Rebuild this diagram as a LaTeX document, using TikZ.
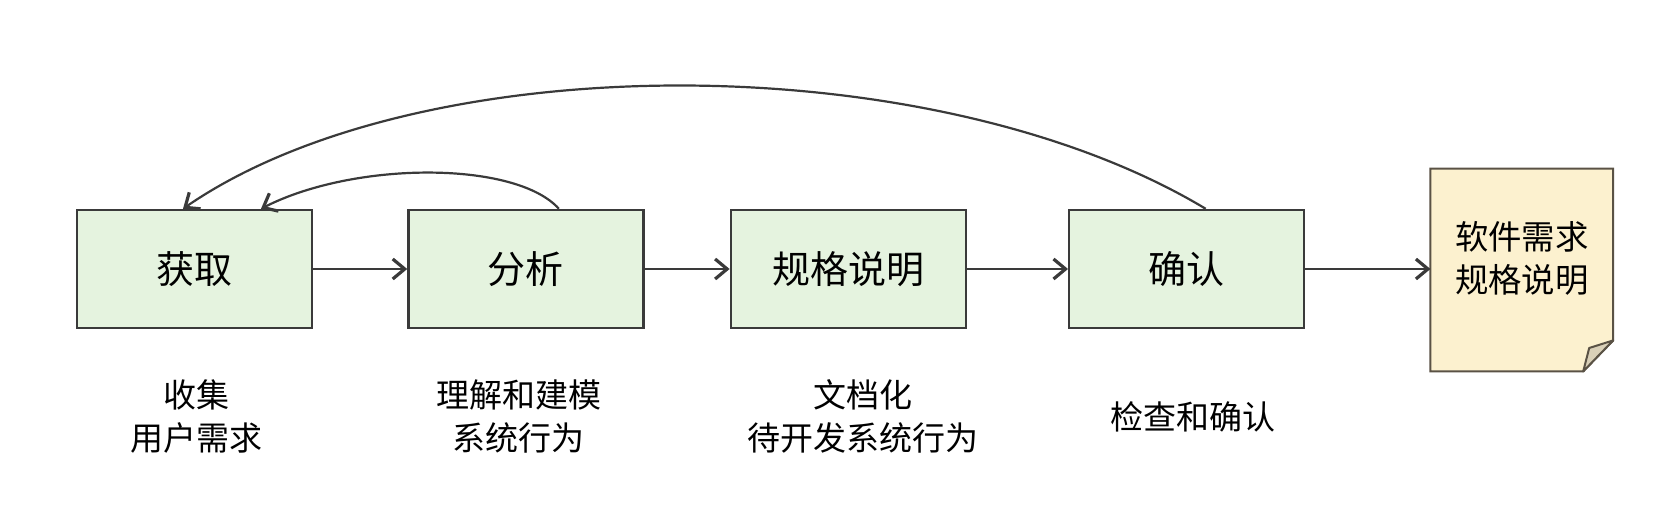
\documentclass[tikz,border=0pt]{standalone}
\usepackage{fontspec}
\newfontfamily\cjk{Noto Sans CJK SC}
\usepackage{tikz}
\usetikzlibrary{positioning,arrows.meta,calc}
\definecolor{boxgreen}{HTML}{E5F3DF}
\definecolor{edgegray}{HTML}{3A3A3A}
\definecolor{docyellow}{HTML}{FCF1CF}
\definecolor{docedge}{HTML}{5A5245}
\definecolor{foldtan}{HTML}{D9D0B8}
\tikzset{
  stage/.style={draw=edgegray, line width=1.2pt, fill=boxgreen, minimum width=117.5pt,
                minimum height=59pt, inner sep=0pt, font=\cjk\fontsize{19}{22}\selectfont},
  note/.style={align=center, inner sep=0pt, font=\cjk\fontsize{16.5}{21.5}\selectfont},
  docbox/.style={minimum width=91pt, minimum height=101pt, inner sep=0pt},
  doctext/.style={align=center, inner sep=0pt, font=\cjk\fontsize{16.7}{21.5}\selectfont},
  flow/.style={-{Straight Barb[length=6pt,width=10pt,line width=0.5pt 1]}, line width=1.1pt, draw=edgegray},
}
\begin{document}
\begin{tikzpicture}[x=0.5pt,y=0.5pt]
\useasboundingbox (0,0) rectangle (1670,520);
\node[stage] (acq) at (194.5,251) {获取};
\node[stage, right=47pt of acq] (ana) {分析};
\node[stage, right=42.5pt of ana] (spc) {规格说明};
\node[stage, right=50.5pt of spc] (val) {确认};
\node[docbox, right=62.5pt of val, yshift=-0.5pt] (doc) {};
\draw[draw=docedge, line width=1pt, fill=docyellow] (doc.north west) -- (doc.north east)
  -- ([yshift=15.5pt]doc.south east) -- ([xshift=-15pt]doc.south east) -- (doc.south west) -- cycle;
\draw[draw=docedge, line width=1pt, line join=round, fill=foldtan] ([yshift=15.5pt]doc.south east)
  -- ([xshift=-12pt,yshift=11.7pt]doc.south east) -- ([xshift=-15pt]doc.south east) -- cycle;
\node[doctext] (doclabel) at ([yshift=6pt]doc.center) {软件需求\\规格说明};
\foreach \a/\b in {acq/ana,ana/spc,spc/val}
  \draw[flow] (\a) -- (\b);
\draw[flow] (val) -- (val -| doc.west);
\draw[flow] ([xshift=16.5pt]ana.north) .. controls +(-43,48) and +(94,48) .. ([xshift=33.25pt]acq.north);
\draw[flow] ([xshift=9.5pt]val.north) .. controls +(-273,164) and +(238,164) .. ([xshift=-5.75pt]acq.north);
\node[note] (acqnote) at ([xshift=0.75pt,yshift=-43.75pt]acq.south) {收集\\用户需求};
\node[note] (ananote) at ([xshift=-3.5pt,yshift=-43.75pt]ana.south) {理解和建模\\系统行为};
\node[note] (spcnote) at ([xshift=7.5pt,yshift=-43.75pt]spc.south) {文档化\\待开发系统行为};
\node[note] (valnote) at ([xshift=3pt,yshift=-44pt]val.south) {检查和确认};
\end{tikzpicture}
\end{document}
